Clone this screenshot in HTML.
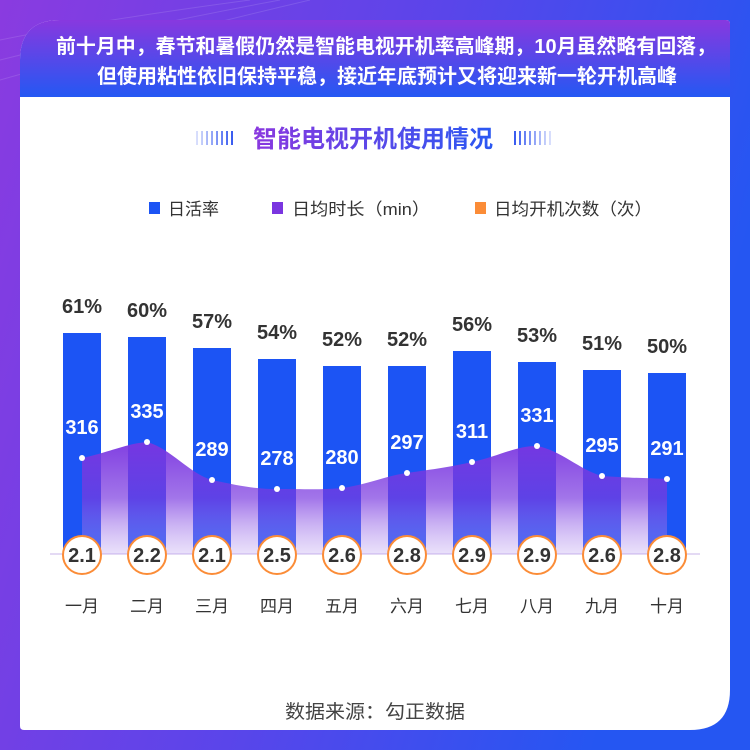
<!DOCTYPE html>
<html><head><meta charset="utf-8"><style>
body{margin:0;width:750px;height:750px;overflow:hidden;font-family:"Liberation Sans","Noto Sans CJK SC",sans-serif;}
</style></head><body>
<svg width="750" height="750" viewBox="0 0 750 750" xmlns="http://www.w3.org/2000/svg" font-family="Liberation Sans, Noto Sans CJK SC, sans-serif">
<defs>
<linearGradient id="bg" x1="0" y1="0" x2="1" y2="0.3"><stop offset="0" stop-color="#8a3be0"/><stop offset="0.55" stop-color="#5a45ea"/><stop offset="1" stop-color="#2556f2"/></linearGradient>
<linearGradient id="hd" x1="0" y1="0" x2="0" y2="1"><stop offset="0" stop-color="#8838df"/><stop offset="1" stop-color="#2458f3"/></linearGradient>
<linearGradient id="ar" x1="0" y1="0" x2="0" y2="1"><stop offset="0" stop-color="#7a35e0" stop-opacity="0.95"/><stop offset="0.5" stop-color="#7a3ae0" stop-opacity="0.7"/><stop offset="1" stop-color="#b89af0" stop-opacity="0.3"/></linearGradient>
<linearGradient id="tt" x1="0" y1="0" x2="1" y2="0"><stop offset="0" stop-color="#8a38df"/><stop offset="1" stop-color="#2a58f2"/></linearGradient>
<linearGradient id="dl" x1="0" y1="0" x2="1" y2="0"><stop offset="0" stop-color="#3a5cf0" stop-opacity="0.2"/><stop offset="1" stop-color="#3a5cf0"/></linearGradient>
<linearGradient id="dr" x1="0" y1="0" x2="1" y2="0"><stop offset="0" stop-color="#3a5cf0"/><stop offset="1" stop-color="#3a5cf0" stop-opacity="0.2"/></linearGradient>
</defs>
<rect width="750" height="750" fill="url(#bg)"/>
<g stroke="#fff" stroke-opacity="0.12" fill="none">
<path d="M0 40 Q100 20 250 0"/><path d="M0 60 Q120 30 280 0"/><path d="M0 80 Q140 40 310 0"/>
</g>
<path d="M20 60 Q20 20 60 20 L726 20 Q730 20 730 24 L730 690 Q730 730 690 730 L24 730 Q20 730 20 726 Z" fill="#fff"/>
<path d="M20 60 Q20 20 60 20 L726 20 Q730 20 730 24 L730 97 L20 97 Z" fill="url(#hd)"/>
<text x="386" y="53" font-size="20" font-weight="bold" fill="#fff" text-anchor="middle" textLength="660" lengthAdjust="spacingAndGlyphs">前十月中，春节和暑假仍然是智能电视开机率高峰期，10月虽然略有回落，</text>
<text x="387" y="83" font-size="20" font-weight="bold" fill="#fff" text-anchor="middle" textLength="580" lengthAdjust="spacingAndGlyphs">但使用粘性依旧保持平稳，接近年底预计又将迎来新一轮开机高峰</text>
<text x="373" y="147" font-size="24" font-weight="bold" fill="url(#tt)" text-anchor="middle">智能电视开机使用情况</text>
<g stroke-width="2"><path d="M197 131v14M202 131v14M207 131v14M212 131v14M217 131v14M222 131v14M227 131v14M232 131v14" stroke="url(#dl)"/>
<path d="M515 131v14M520 131v14M525 131v14M530 131v14M535 131v14M540 131v14M545 131v14M550 131v14" stroke="url(#dr)"/></g>
<g font-size="17" fill="#333">
<rect x="149" y="202" width="11" height="12" fill="#1c54f4"/><text x="168" y="215">日活率</text>
<rect x="272" y="202" width="11" height="12" fill="#7a35e0"/><text x="292" y="215" textLength="138" lengthAdjust="spacingAndGlyphs">日均时长（min）</text>
<rect x="475" y="202" width="11" height="12" fill="#fb8c37"/><text x="494" y="215" textLength="158" lengthAdjust="spacingAndGlyphs">日均开机次数（次）</text>
</g>
<line x1="50" y1="554" x2="700" y2="554" stroke="#c9b6ea" stroke-width="1"/>
<g fill="#1c54f4">
<rect x="63" y="333" width="38" height="221"/><rect x="128" y="337" width="38" height="217"/><rect x="193" y="348" width="38" height="206"/><rect x="258" y="359" width="38" height="195"/><rect x="323" y="366" width="38" height="188"/><rect x="388" y="366" width="38" height="188"/><rect x="453" y="351" width="38" height="203"/><rect x="518" y="362" width="38" height="192"/><rect x="583" y="370" width="38" height="184"/><rect x="648" y="373" width="38" height="181"/>
</g>
<path d="M82 458 C110 452 125 444 147 442 C170 448 190 474 212 480 C240 486 255 489 277 489 C305 489 320 490 342 488 C370 484 385 476 407 473 C435 469 450 467 472 462 C500 456 515 446 537 446 C560 450 580 470 602 476 C630 478 645 478 667 479 L667 554 L82 554 Z" fill="url(#ar)"/>
<g fill="#fff">
<circle cx="82" cy="458" r="3"/><circle cx="147" cy="442" r="3"/><circle cx="212" cy="480" r="3"/><circle cx="277" cy="489" r="3"/><circle cx="342" cy="488" r="3"/><circle cx="407" cy="473" r="3"/><circle cx="472" cy="462" r="3"/><circle cx="537" cy="446" r="3"/><circle cx="602" cy="476" r="3"/><circle cx="667" cy="479" r="3"/>
</g>
<g font-size="20" font-weight="bold" fill="#fff" text-anchor="middle">
<text x="82" y="434">316</text><text x="147" y="418">335</text><text x="212" y="456">289</text><text x="277" y="465">278</text><text x="342" y="464">280</text><text x="407" y="449">297</text><text x="472" y="438">311</text><text x="537" y="422">331</text><text x="602" y="452">295</text><text x="667" y="455">291</text>
</g>
<g font-size="20" font-weight="bold" fill="#333" text-anchor="middle">
<text x="82" y="313">61%</text><text x="147" y="317">60%</text><text x="212" y="328">57%</text><text x="277" y="339">54%</text><text x="342" y="346">52%</text><text x="407" y="346">52%</text><text x="472" y="331">56%</text><text x="537" y="342">53%</text><text x="602" y="350">51%</text><text x="667" y="353">50%</text>
</g>
<g fill="#fff" stroke="#fb8c37" stroke-width="2">
<circle cx="82" cy="555" r="19"/><circle cx="147" cy="555" r="19"/><circle cx="212" cy="555" r="19"/><circle cx="277" cy="555" r="19"/><circle cx="342" cy="555" r="19"/><circle cx="407" cy="555" r="19"/><circle cx="472" cy="555" r="19"/><circle cx="537" cy="555" r="19"/><circle cx="602" cy="555" r="19"/><circle cx="667" cy="555" r="19"/>
</g>
<g font-size="20" font-weight="bold" fill="#333" text-anchor="middle">
<text x="82" y="562">2.1</text><text x="147" y="562">2.2</text><text x="212" y="562">2.1</text><text x="277" y="562">2.5</text><text x="342" y="562">2.6</text><text x="407" y="562">2.8</text><text x="472" y="562">2.9</text><text x="537" y="562">2.9</text><text x="602" y="562">2.6</text><text x="667" y="562">2.8</text>
</g>
<g font-size="17" fill="#333" text-anchor="middle">
<text x="82" y="612">一月</text><text x="147" y="612">二月</text><text x="212" y="612">三月</text><text x="277" y="612">四月</text><text x="342" y="612">五月</text><text x="407" y="612">六月</text><text x="472" y="612">七月</text><text x="537" y="612">八月</text><text x="602" y="612">九月</text><text x="667" y="612">十月</text>
</g>
<text x="375" y="718" font-size="19" fill="#444" text-anchor="middle" textLength="180" lengthAdjust="spacingAndGlyphs">数据来源：勾正数据</text>
</svg>
</body></html>
